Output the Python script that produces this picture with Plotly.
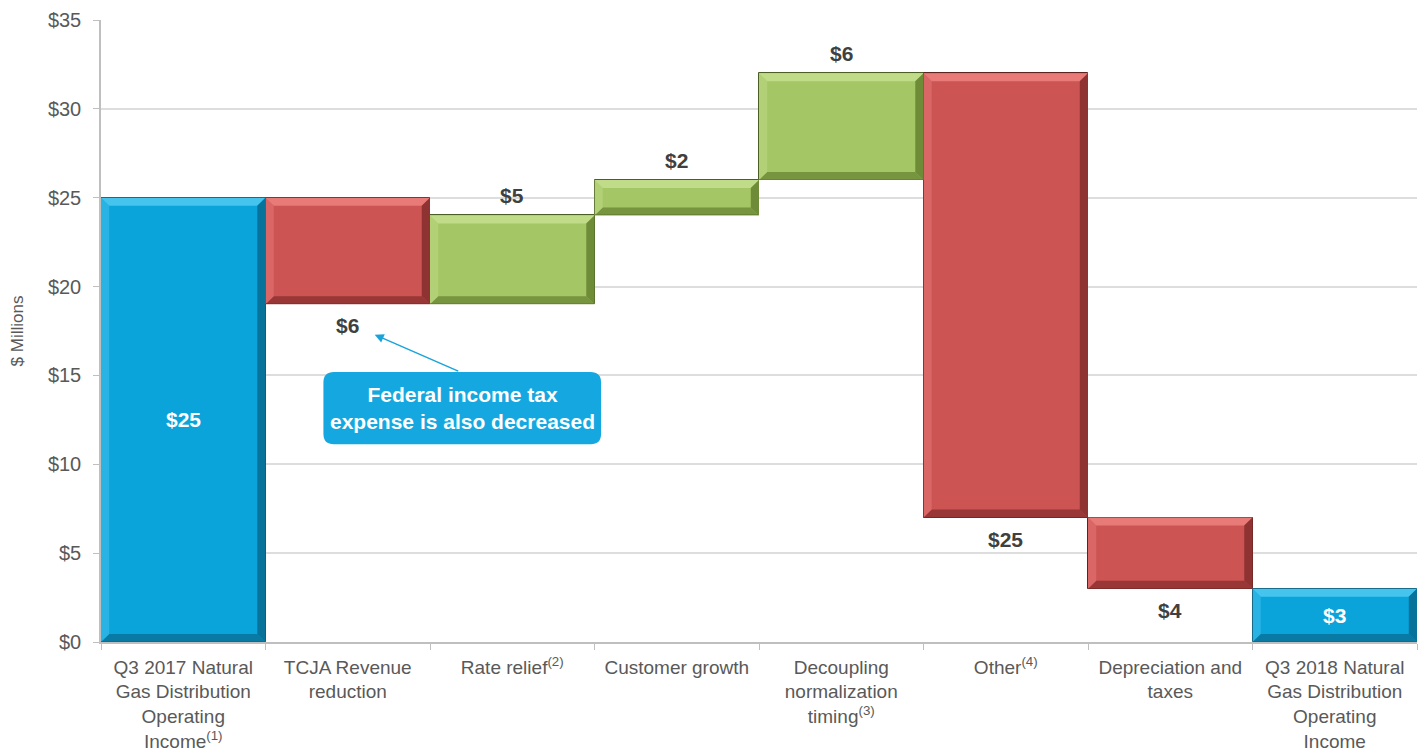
import plotly.graph_objects as go

categories = [
    "Q3 2017 Natural<br>Gas Distribution<br>Operating<br>Income<sup>(1)</sup>",
    "TCJA Revenue<br>reduction",
    "Rate relief<sup>(2)</sup>",
    "Customer growth",
    "Decoupling<br>normalization<br>timing<sup>(3)</sup>",
    "Other<sup>(4)</sup>",
    "Depreciation and<br>taxes",
    "Q3 2018 Natural<br>Gas Distribution<br>Operating<br>Income",
]
kinds = ["total", "delta", "delta", "delta", "delta", "delta", "delta", "total"]
values = [25, -6, 5, 2, 6, -25, -4, 3]
labels = ["$25", "$6", "$5", "$2", "$6", "$25", "$4", "$3"]
y_ticks = [0, 5, 10, 15, 20, 25, 30, 35]

COL = {
    "total": dict(face="#0AA3DA", light="#45C4EE", dark="#08739A", edge="#0B4F69"),
    "up": dict(face="#A5C664", light="#C0DC88", dark="#6E8B38", edge="#4A5E25"),
    "down": dict(face="#CC5452", light="#E87A77", dark="#8E3331", edge="#5E2220"),
}

bases, heights, styles = [], [], []
running = 0
for k, v in zip(kinds, values):
    if k == "total":
        bases.append(0)
        heights.append(v)
        running = v
        styles.append("total")
    else:
        new = running + v
        bases.append(min(running, new))
        heights.append(abs(v))
        styles.append("up" if v > 0 else "down")
        running = new

idx = list(range(len(categories)))

fig = go.Figure()
fig.add_trace(go.Bar(
    x=idx, y=heights, base=bases,
    marker=dict(color=[COL[s]["face"] for s in styles],
                line=dict(color=[COL[s]["edge"] for s in styles], width=1)),
    hoverinfo="skip", showlegend=False,
))

shapes = []
dx, dy = 0.05, 0.45
for i, (b, h, s) in enumerate(zip(bases, heights, styles)):
    t = b + h
    x0, x1 = i - 0.5, i + 0.5
    c = COL[s]
    shapes.append(dict(type="path", xref="x", yref="y",
                       path=f"M{x0},{t} L{x1},{t} L{x1-dx},{t-dy} L{x0+dx},{t-dy} Z",
                       fillcolor=c["light"], line=dict(width=0), layer="above"))
    shapes.append(dict(type="path", xref="x", yref="y",
                       path=f"M{x1},{t} L{x1},{b} L{x1-dx},{b+dy} L{x1-dx},{t-dy} Z",
                       fillcolor=c["dark"], line=dict(width=0), layer="above"))
    shapes.append(dict(type="path", xref="x", yref="y",
                       path=f"M{x0},{b} L{x1},{b} L{x1-dx},{b+dy} L{x0+dx},{b+dy} Z",
                       fillcolor=c["dark"], line=dict(width=0), layer="above", opacity=0.85))
    shapes.append(dict(type="path", xref="x", yref="y",
                       path=f"M{x0},{t} L{x0},{b} L{x0+dx},{b+dy} L{x0+dx},{t-dy} Z",
                       fillcolor=c["light"], line=dict(width=0), layer="above", opacity=0.5))

# callout rounded box (paper coords)
bx0, bx1, by0, by1, r = 0.169, 0.380, 0.318, 0.434, 0.008
ry = r * 1316 / 622
shapes.append(dict(type="path", xref="paper", yref="paper",
                   path=(f"M{bx0+r},{by0} L{bx1-r},{by0} Q{bx1},{by0} {bx1},{by0+ry} "
                         f"L{bx1},{by1-ry} Q{bx1},{by1} {bx1-r},{by1} L{bx0+r},{by1} "
                         f"Q{bx0},{by1} {bx0},{by1-ry} L{bx0},{by0+ry} Q{bx0},{by0} {bx0+r},{by0} Z"),
                   fillcolor="#15A8E0", line=dict(width=0), layer="above"))

annotations = []
for i, (k, v, b, h, lab) in enumerate(zip(kinds, values, bases, heights, labels)):
    if k == "total":
        annotations.append(dict(x=i, y=b + h / 2, text=f"<b>{lab}</b>", showarrow=False,
                                font=dict(color="white", size=21)))
    elif v > 0:
        annotations.append(dict(x=i, y=b + h, text=f"<b>{lab}</b>", showarrow=False,
                                yanchor="bottom", yshift=6, font=dict(color="#404040", size=21)))
    else:
        annotations.append(dict(x=i, y=b, text=f"<b>{lab}</b>", showarrow=False,
                                yanchor="top", yshift=-8, font=dict(color="#404040", size=21)))

annotations.append(dict(xref="paper", yref="paper", x=(bx0 + bx1) / 2, y=(by0 + by1) / 2,
                        xanchor="center", yanchor="middle",
                        text="<b>Federal income tax<br>expense is also decreased</b>",
                        showarrow=False, font=dict(color="white", size=21)))
annotations.append(dict(xref="paper", yref="paper", x=0.208, y=0.494, ax=85, ay=37,
                        text="", showarrow=True, arrowhead=2, arrowsize=1.2,
                        arrowwidth=1.5, arrowcolor="#1AA3DB"))

fig.update_layout(
    width=1428, height=753,
    margin=dict(l=93, r=19, t=12, b=119),
    paper_bgcolor="white", plot_bgcolor="white",
    bargap=0,
    font=dict(family="Liberation Sans, Arial, sans-serif", color="#595959"),
    shapes=shapes,
    annotations=annotations,
    xaxis=dict(
        tickmode="array", tickvals=idx, ticktext=categories, tickangle=0,
        range=[-0.5, len(categories) - 0.5], automargin=False,
        showline=True, linecolor="#BFBFBF", linewidth=1.5,
        ticks="", showgrid=False, zeroline=False, ticklabelstandoff=7,
        tickfont=dict(size=19, color="#595959"),
        minor=dict(tickvals=[i - 0.5 for i in range(len(categories) + 1)],
                   ticks="outside", ticklen=6, tickcolor="#BFBFBF", showgrid=False),
    ),
    yaxis=dict(
        range=[0, 35], tickvals=y_ticks, ticktext=[f"${t}" for t in y_ticks],
        automargin=False,
        showline=True, linecolor="#BFBFBF", linewidth=1.5,
        ticks="outside", ticklen=6, tickcolor="#BFBFBF", ticklabelstandoff=8,
        showgrid=True, gridcolor="#DDDDDD", gridwidth=1.5, zeroline=False,
        tickfont=dict(size=20, color="#595959"),
        title=dict(text="$ Millions", font=dict(size=17, color="#595959"), standoff=20),
    ),
)

fig.write_html("out.html")
